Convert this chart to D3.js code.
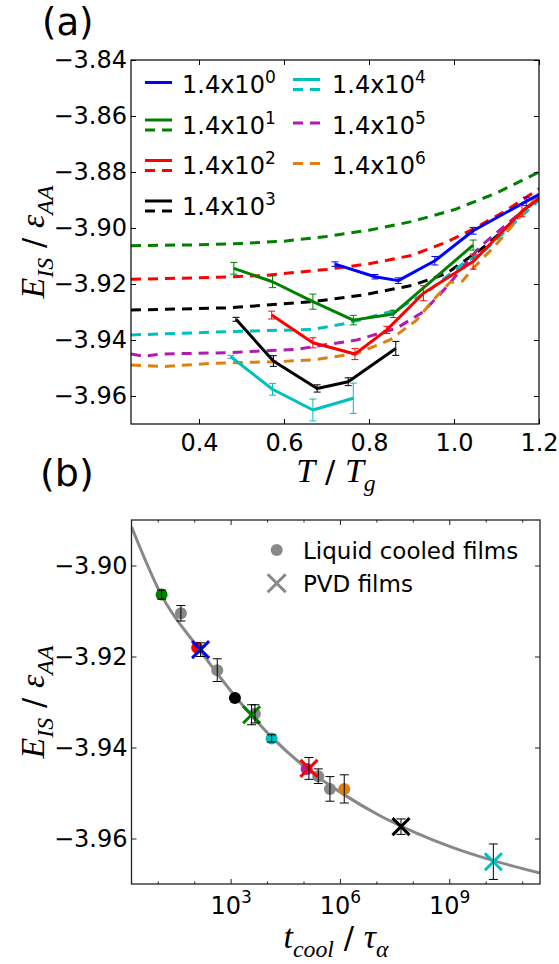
<!DOCTYPE html>
<html><head><meta charset="utf-8">
<script src="https://cdn.jsdelivr.net/npm/d3@7"></script>
<style>body{margin:0;background:#fff}svg{display:block}</style>
</head><body>
<svg id="c" width="559" height="964"></svg>
<script>
// ---------------- DATA ----------------
// Panel (a) axis ticks
const tempTicksA = [0.4, 0.6, 0.8, 1.0, 1.2];
const energyTicksA = [-3.96, -3.94, -3.92, -3.90, -3.88, -3.86, -3.84];
// Legend categories (deposition / cooling rate exponents of 1.4x10^n)
const rateLabels = ["0", "1", "2", "3", "4", "5", "6"];
const rateHasPVD = [true, true, true, true, true, false, false];
const rateHasLC  = [false, true, true, true, true, true, true];

// Panel (a) PVD films (solid with error bars): [T/Tg, E_IS, err]
const pvdRate0 = [[0.720,-3.9129,0.0008],[0.814,-3.9174,0.0008],[0.869,-3.9188,0.0010],[0.955,-3.9117,0.0015],[1.045,-3.9010,0.0012],[1.170,-3.8905,0.0015],[1.25,-3.8840,0]];
const pvdRate1 = [[0.482,-3.9144,0.0021],[0.573,-3.9192,0.0021],[0.668,-3.9263,0.0027],[0.763,-3.9329,0.0017],[0.857,-3.9307,0.0013],[1.045,-3.9061,0.0018]];
const pvdRate2 = [[0.571,-3.9311,0.0014],[0.668,-3.9410,0.0018],[0.767,-3.9450,0.0020],[0.842,-3.9364,0.0013],[0.928,-3.9233,0.0027],[1.045,-3.9120,0.0027],[1.160,-3.8940,0.0020],[1.25,-3.8840,0]];
const pvdRate3 = [[0.487,-3.9326,0.0007],[0.575,-3.9475,0.0019],[0.678,-3.9573,0.0013],[0.751,-3.9549,0.0014],[0.863,-3.9430,0.0025]];
const pvdRate4 = [[0.475,-3.9460,0.0005],[0.573,-3.9576,0.0021],[0.668,-3.9650,0.0039],[0.763,-3.9608,0.0054]];

// Panel (a) liquid-cooled films (dashed): [T/Tg, E_IS]
const lcRate1 = [[0.24,-3.9063],[0.40,-3.9060],[0.50,-3.9055],[0.60,-3.9047],[0.70,-3.9030],[0.80,-3.9008],[0.90,-3.8977],[1.00,-3.8935],[1.10,-3.8875],[1.20,-3.8800]];
const lcRate2 = [[0.24,-3.9183],[0.40,-3.9178],[0.55,-3.9170],[0.70,-3.9148],[0.80,-3.9128],[0.90,-3.9098],[0.98,-3.9052],[1.05,-3.9000],[1.12,-3.8940],[1.20,-3.8860]];
const lcRate3 = [[0.24,-3.9293],[0.473,-3.9285],[0.669,-3.9263],[0.787,-3.9239],[0.904,-3.9204],[0.983,-3.9162],[1.061,-3.9079],[1.108,-3.9019],[1.20,-3.8890]];
const lcRate4 = [[0.24,-3.9382],[0.473,-3.9370],[0.669,-3.9362],[0.748,-3.9340],[0.865,-3.9293],[0.944,-3.9221],[1.022,-3.9126],[1.069,-3.9085],[1.20,-3.8900]];
const lcRate5 = [[0.24,-3.9450],[0.27,-3.9458],[0.31,-3.9450],[0.473,-3.9445],[0.63,-3.9433],[0.771,-3.9400],[0.865,-3.9358],[0.928,-3.9299],[0.983,-3.9210],[1.061,-3.9067],[1.20,-3.8890]];
const lcRate6 = [[0.24,-3.9489],[0.316,-3.9495],[0.434,-3.9483],[0.591,-3.9477],[0.669,-3.9471],[0.771,-3.9448],[0.849,-3.9400],[0.912,-3.9329],[0.951,-3.9257],[0.99,-3.9195],[1.02,-3.9190],[1.045,-3.9144],[1.098,-3.9061],[1.20,-3.8880]];

// Panel (b) axis ticks
const energyTicksB = [-3.96, -3.94, -3.92, -3.90];
const timeTickExponentsB = [3, 6, 9];

// Panel (b) liquid-cooled films (circles): log10(t_cool/tau), E_IS, err, rate index (-1 = grey)
const lcLogTime = [1.106, 1.636, 2.083, 2.633, 3.118, 3.667, 4.125, 5.086, 5.405, 5.726, 6.118];
const lcEnergy  = [-3.9064,-3.9105,-3.9181,-3.9230,-3.9291,-3.9326,-3.9380,-3.9447,-3.9463,-3.9491,-3.9491];
const lcErr     = [0.0010, 0.0017, 0, 0.0025, 0, 0.0020, 0.0008, 0, 0.0016, 0.0027, 0.0031];
const lcRateIdx = [1, -1, 2, -1, 3, -1, 4, 5, -1, -1, 6];

// Panel (b) PVD films (crosses)
const pvdLogTime = [2.176, 3.576, 5.149, 7.675, 10.21];
const pvdEnergy  = [-3.9185, -3.9328, -3.9446, -3.9574, -3.9651];
const pvdErr     = [0.0015, 0.0022, 0.0024, 0.0017, 0.0039];
const pvdRateIdx = [0, 1, 2, 3, 4];

// Panel (b) fit curve
const fitLogTime = [0.28, 1.1, 2.1, 3.1, 4.1, 5.1, 6.1, 7.1, 8.1, 9.1, 10.1, 11.49];
const fitEnergy  = [-3.8915,-3.9065,-3.9180,-3.9285,-3.9375,-3.9447,-3.9503,-3.9550,-3.9588,-3.9620,-3.9646,-3.9676];

// ---------------- STYLE ----------------
const rateColors = ["#0000ff", "#008000", "#ff0000", "#000000", "#00bfbf", "#b01cb0", "#dd8010"];
const GREY = "#888888";
const FONT = "'DejaVu Sans', sans-serif";
const MATH = "'Liberation Serif', 'DejaVu Serif', serif";
const DASH = "10,7";
const LABEL_SIZE = 34;

const svg = d3.select("#c");
const pvdSets = [pvdRate0, pvdRate1, pvdRate2, pvdRate3, pvdRate4];
const lcSets = [null, lcRate1, lcRate2, lcRate3, lcRate4, lcRate5, lcRate6];

// math-like label helper
function mathText(sel, parts, size) {
  const t = sel.append("text").attr("font-size", size).attr("text-anchor", "middle").attr("fill", "#000");
  let shift = 0;
  parts.forEach(p => {
    const ts = t.append("tspan").text(p.t);
    ts.attr("font-family", p.sans ? FONT : MATH).attr("font-style", p.sans ? "normal" : "italic");
    const target = p.sub ? size * 0.26 : 0;
    ts.attr("font-size", p.sub ? size * 0.7 : (p.sans ? size * 0.9 : size));
    if (target !== shift) { ts.attr("dy", target - shift); shift = target; }
  });
  return t;
}

// ---------------- PANEL (a) ----------------
const A = {l:131, r:539, t:60, b:424};
const xA = d3.scaleLinear().domain([0.24, 1.2]).range([A.l, A.r]);
const yA = d3.scaleLinear().domain([-3.97, -3.84]).range([A.b, A.t]);

svg.append("defs").append("clipPath").attr("id", "clipA")
  .append("rect").attr("x", A.l).attr("y", A.t).attr("width", A.r - A.l).attr("height", A.b - A.t);

const gA = svg.append("g");
const plotA = gA.append("g").attr("clip-path", "url(#clipA)");
const lineA = d3.line().x(d => xA(d[0])).y(d => yA(d[1]));

lcSets.forEach((s, i) => {
  if (!s) return;
  plotA.append("path").attr("d", lineA(s)).attr("fill", "none")
    .attr("stroke", rateColors[i]).attr("stroke-width", 3).attr("stroke-dasharray", DASH);
});
pvdSets.forEach((s, i) => {
  plotA.append("path").attr("d", lineA(s)).attr("fill", "none")
    .attr("stroke", rateColors[i]).attr("stroke-width", 3).attr("stroke-linejoin", "round");
  const eb = plotA.append("g").attr("stroke", rateColors[i]).attr("stroke-width", 1);
  s.filter(d => d[2] > 0).forEach(d => {
    const x = xA(d[0]), y1 = yA(d[1] - d[2]), y2 = yA(d[1] + d[2]);
    eb.append("line").attr("x1", x).attr("x2", x).attr("y1", y1).attr("y2", y2);
    eb.append("line").attr("x1", x - 3.5).attr("x2", x + 3.5).attr("y1", y1).attr("y2", y1);
    eb.append("line").attr("x1", x - 3.5).attr("x2", x + 3.5).attr("y1", y2).attr("y2", y2);
  });
});

// axes (a)
function styleAxis(g) {
  g.select(".domain").remove();
  g.selectAll(".tick line").attr("stroke", "#000").attr("stroke-width", 1);
  g.selectAll("text").attr("font-family", FONT).attr("font-size", 24).attr("fill", "#000");
}
gA.append("g").attr("transform", `translate(0,${A.b})`)
  .call(d3.axisBottom(xA).tickValues(tempTicksA).tickFormat(d3.format(".1f")).tickSizeInner(-5).tickSizeOuter(0).tickPadding(10))
  .call(styleAxis);
gA.append("g").attr("transform", `translate(0,${A.t})`)
  .call(d3.axisTop(xA).tickValues(tempTicksA).tickFormat("").tickSizeInner(-5).tickSizeOuter(0))
  .call(styleAxis);
gA.append("g").attr("transform", `translate(${A.l},0)`)
  .call(d3.axisLeft(yA).tickValues(energyTicksA).tickFormat(d3.format(".2f")).tickSizeInner(-5).tickSizeOuter(0).tickPadding(4))
  .call(styleAxis);
gA.append("g").attr("transform", `translate(${A.r},0)`)
  .call(d3.axisRight(yA).tickValues(energyTicksA).tickFormat("").tickSizeInner(-5).tickSizeOuter(0))
  .call(styleAxis);
gA.append("rect").attr("x", A.l).attr("y", A.t).attr("width", A.r - A.l).attr("height", A.b - A.t)
  .attr("fill", "none").attr("stroke", "#000").attr("stroke-width", 1.2);

// legend (a)
const legA = gA.append("g");
rateLabels.forEach((lab, i) => {
  const col = i < 4 ? 0 : 1, row = i < 4 ? i : i - 4;
  const hx = col === 0 ? 145 : 293, tx = col === 0 ? 182 : 332;
  const base = 93 + row * 40.5;
  const both = rateHasPVD[i] && rateHasLC[i];
  if (rateHasPVD[i]) {
    const y = both ? base - 13.5 : base - 10.5;
    legA.append("line").attr("x1", hx).attr("x2", hx + 27).attr("y1", y).attr("y2", y)
      .attr("stroke", rateColors[i]).attr("stroke-width", 3);
  }
  if (rateHasLC[i]) {
    const y = both ? base - 3.5 : base - 10.5;
    legA.append("line").attr("x1", hx).attr("x2", hx + 27).attr("y1", y).attr("y2", y)
      .attr("stroke", rateColors[i]).attr("stroke-width", 3).attr("stroke-dasharray", DASH);
  }
  const t = legA.append("text").attr("x", tx).attr("y", base).attr("font-family", FONT).attr("font-size", 24).attr("fill", "#000");
  t.append("tspan").text("1.4x10");
  t.append("tspan").text(lab).attr("font-size", 17).attr("dy", -10);
});

// labels (a)
svg.append("text").attr("x", 42).attr("y", 35).attr("font-family", FONT).attr("font-size", 37).text("(a)");
mathText(svg.append("g").attr("transform", "translate(336,482)"),
  [{t:"T"}, {t:" / ", sans:true}, {t:"T"}, {t:"g", sub:true}], LABEL_SIZE);
mathText(svg.append("g").attr("transform", `translate(44,${(A.t + A.b) / 2}) rotate(-90)`),
  [{t:"E"}, {t:"IS", sub:true}, {t:" / ", sans:true}, {t:"ε"}, {t:"AA", sub:true}], LABEL_SIZE);

// ---------------- PANEL (b) ----------------
const B = {l:131.5, r:540, t:520, b:884};
const xB = d3.scaleLog().domain([Math.pow(10, 0.28), Math.pow(10, 11.49)]).range([B.l, B.r]);
const yB = d3.scaleLinear().domain([-3.97, -3.89]).range([B.b, B.t]);

svg.select("defs").append("clipPath").attr("id", "clipB")
  .append("rect").attr("x", B.l).attr("y", B.t).attr("width", B.r - B.l).attr("height", B.b - B.t);
const gB = svg.append("g");
const plotB = gB.append("g").attr("clip-path", "url(#clipB)");

const fitPts = fitLogTime.map((lx, i) => [Math.pow(10, lx), fitEnergy[i]]);
plotB.append("path")
  .attr("d", d3.line().x(d => xB(d[0])).y(d => yB(d[1])).curve(d3.curveMonotoneX)(fitPts))
  .attr("fill", "none").attr("stroke", GREY).attr("stroke-width", 3);

// circles
lcLogTime.forEach((lx, i) => {
  plotB.append("circle").attr("cx", xB(Math.pow(10, lx))).attr("cy", yB(lcEnergy[i])).attr("r", 6)
    .attr("fill", lcRateIdx[i] < 0 ? GREY : rateColors[lcRateIdx[i]]);
});
// crosses
const xs = 8.5;
pvdLogTime.forEach((lx, i) => {
  const cx = xB(Math.pow(10, lx)), cy = yB(pvdEnergy[i]);
  plotB.append("path").attr("d", `M${cx - xs},${cy - xs}L${cx + xs},${cy + xs}M${cx - xs},${cy + xs}L${cx + xs},${cy - xs}`)
    .attr("stroke", rateColors[pvdRateIdx[i]]).attr("stroke-width", 3).attr("fill", "none");
});
// error bars
function errBar(g, x, e, err) {
  const y1 = yB(e - err), y2 = yB(e + err);
  g.append("line").attr("x1", x).attr("x2", x).attr("y1", y1).attr("y2", y2);
  g.append("line").attr("x1", x - 4.5).attr("x2", x + 4.5).attr("y1", y1).attr("y2", y1);
  g.append("line").attr("x1", x - 4.5).attr("x2", x + 4.5).attr("y1", y2).attr("y2", y2);
}
const ebB = plotB.append("g").attr("stroke", "#000").attr("stroke-width", 1);
lcLogTime.forEach((lx, i) => { if (lcErr[i] > 0) errBar(ebB, xB(Math.pow(10, lx)), lcEnergy[i], lcErr[i]); });
pvdLogTime.forEach((lx, i) => { if (pvdErr[i] > 0) errBar(ebB, xB(Math.pow(10, lx)), pvdEnergy[i], pvdErr[i]); });

// axes (b)
const majorB = timeTickExponentsB.map(e => Math.pow(10, e));
const minorB = xB.ticks().filter(v => !timeTickExponentsB.some(e => Math.abs(Math.log10(v) - e) < 1e-9));
function styleAxisB(g) {
  g.select(".domain").remove();
  g.selectAll(".tick line").attr("stroke", "#222").attr("stroke-width", 1);
  g.selectAll("text").attr("font-family", FONT).attr("font-size", 24).attr("fill", "#000");
}
const bx = gB.append("g").attr("transform", `translate(0,${B.b})`)
  .call(d3.axisBottom(xB).tickValues(majorB).tickFormat("").tickSizeInner(-5).tickSizeOuter(0).tickPadding(10))
  .call(styleAxisB);
bx.selectAll(".tick").each(function(d, i) {
  const t = d3.select(this).append("text").attr("y", 30).attr("text-anchor", "middle")
    .attr("font-family", FONT).attr("font-size", 24).attr("fill", "#000");
  t.append("tspan").text("10");
  t.append("tspan").text(String(timeTickExponentsB[i])).attr("font-size", 17).attr("dy", -11);
});
gB.append("g").attr("transform", `translate(0,${B.b})`)
  .call(d3.axisBottom(xB).tickValues(minorB).tickFormat("").tickSizeInner(-2.5).tickSizeOuter(0)).call(styleAxisB);
gB.append("g").attr("transform", `translate(0,${B.t})`)
  .call(d3.axisTop(xB).tickValues(majorB).tickFormat("").tickSizeInner(-5).tickSizeOuter(0)).call(styleAxisB);
gB.append("g").attr("transform", `translate(0,${B.t})`)
  .call(d3.axisTop(xB).tickValues(minorB).tickFormat("").tickSizeInner(-2.5).tickSizeOuter(0)).call(styleAxisB);
gB.append("g").attr("transform", `translate(${B.l},0)`)
  .call(d3.axisLeft(yB).tickValues(energyTicksB).tickFormat(d3.format(".2f")).tickSizeInner(-5).tickSizeOuter(0).tickPadding(4))
  .call(styleAxisB);
gB.append("g").attr("transform", `translate(${B.r},0)`)
  .call(d3.axisRight(yB).tickValues(energyTicksB).tickFormat("").tickSizeInner(-5).tickSizeOuter(0))
  .call(styleAxisB);
gB.append("rect").attr("x", B.l).attr("y", B.t).attr("width", B.r - B.l).attr("height", B.b - B.t)
  .attr("fill", "none").attr("stroke", "#222").attr("stroke-width", 1.3);

// legend (b)
const legB = gB.append("g");
legB.append("circle").attr("cx", 276.7).attr("cy", 550).attr("r", 6).attr("fill", GREY);
legB.append("path").attr("d", `M${276.7 - 9},${583.3 - 9}L${276.7 + 9},${583.3 + 9}M${276.7 - 9},${583.3 + 9}L${276.7 + 9},${583.3 - 9}`)
  .attr("stroke", GREY).attr("stroke-width", 3);
legB.append("text").attr("x", 303).attr("y", 559).attr("font-family", FONT).attr("font-size", 23).text("Liquid cooled films");
legB.append("text").attr("x", 303).attr("y", 592).attr("font-family", FONT).attr("font-size", 23).text("PVD films");

// labels (b)
svg.append("text").attr("x", 40).attr("y", 486).attr("font-family", FONT).attr("font-size", 38).text("(b)");
mathText(svg.append("g").attr("transform", "translate(336,948)"),
  [{t:"t"}, {t:"cool", sub:true}, {t:" / ", sans:true}, {t:"τ"}, {t:"α", sub:true}], LABEL_SIZE);
mathText(svg.append("g").attr("transform", `translate(44,${(B.t + B.b) / 2}) rotate(-90)`),
  [{t:"E"}, {t:"IS", sub:true}, {t:" / ", sans:true}, {t:"ε"}, {t:"AA", sub:true}], LABEL_SIZE);
</script>
</body></html>
